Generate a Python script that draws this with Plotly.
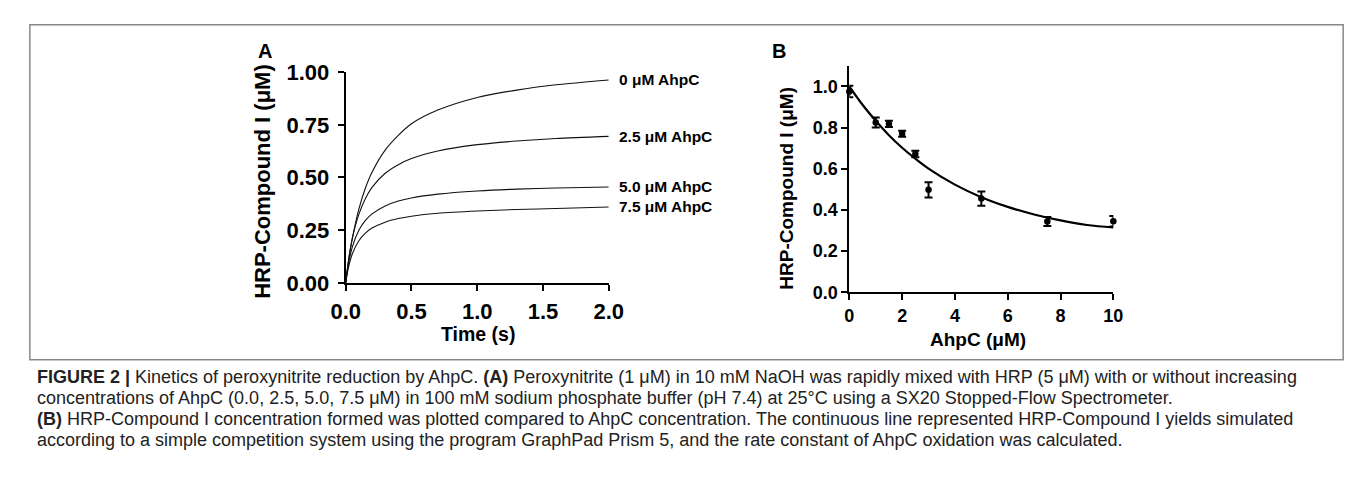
import plotly.graph_objects as go

W, H = 1357, 488

# ---------------- Panel A data ----------------
time_s = [0, 0.02, 0.05, 0.1, 0.15, 0.2, 0.3, 0.4, 0.5, 0.7, 1.0, 1.3, 1.6, 2.0]
ahpc_0 = [0, 0.10, 0.21, 0.35, 0.45, 0.525, 0.63, 0.70, 0.755, 0.82, 0.88, 0.915, 0.94, 0.963]
ahpc_25 = [0, 0.10, 0.21, 0.325, 0.40, 0.453, 0.52, 0.561, 0.59, 0.626, 0.656, 0.673, 0.685, 0.695]
ahpc_50 = [0, 0.086, 0.169, 0.249, 0.296, 0.327, 0.365, 0.388, 0.403, 0.421, 0.436, 0.445, 0.450, 0.455]
ahpc_75 = [0, 0.07, 0.137, 0.20, 0.236, 0.26, 0.288, 0.305, 0.316, 0.330, 0.341, 0.348, 0.353, 0.360]
curve_labels = ["0 μM AhpC", "2.5 μM AhpC", "5.0 μM AhpC", "7.5 μM AhpC"]
label_y = [0.965, 0.695, 0.455, 0.36]

# ---------------- Panel B data ----------------
ahpc_conc = [0, 1, 1.5, 2, 2.5, 3, 5, 7.5, 10]
hrp_ci = [0.975, 0.825, 0.818, 0.77, 0.672, 0.498, 0.455, 0.344, 0.345]
hrp_err = [0.028, 0.024, 0.015, 0.015, 0.016, 0.037, 0.035, 0.022, 0.026]
fit_x = [0, 0.5, 1, 1.5, 2, 2.5, 3, 4, 5, 6, 7, 8, 9, 10]
fit_y = [1.0, 0.911, 0.833, 0.763, 0.702, 0.649, 0.601, 0.523, 0.462, 0.415, 0.378, 0.349, 0.327, 0.315]

FONT = "Liberation Sans, Arial, Helvetica, sans-serif"

fig = go.Figure()

for ys in [ahpc_0, ahpc_25, ahpc_50, ahpc_75]:
    fig.add_trace(go.Scatter(x=time_s, y=ys, mode="lines", line=dict(color="#111", width=1.1, shape="spline", smoothing=0.8),
                             xaxis="x", yaxis="y", showlegend=False, hoverinfo="skip"))

fig.add_trace(go.Scatter(x=fit_x, y=fit_y, mode="lines", line=dict(color="#000", width=2.2, shape="spline"),
                         xaxis="x2", yaxis="y2", showlegend=False))
fig.add_trace(go.Scatter(x=ahpc_conc, y=hrp_ci, mode="markers", cliponaxis=False,
                         marker=dict(color="#000", size=6.5, symbol="circle"),
                         error_y=dict(type="data", array=hrp_err, color="#000", thickness=2, width=4),
                         xaxis="x2", yaxis="y2", showlegend=False))

def px_x(p):
    return p / W

def px_y(p):
    return 1 - p / H

axis_common = dict(showline=True, linecolor="#000", linewidth=2, ticks="outside", ticklen=6, tickwidth=2,
                   tickcolor="#000", showgrid=False, zeroline=False, fixedrange=True)

fig.update_layout(
    width=W, height=H, margin=dict(l=0, r=0, t=0, b=0),
    paper_bgcolor="white", plot_bgcolor="white",
    xaxis=dict(domain=[px_x(330), px_x(599)], range=[0, 2], tickvals=[0, 0.5, 1.0, 1.5, 2.0],
               tickformat=".1f", anchor="y", ticklabelstandoff=2,
               tickfont=dict(family=FONT, size=22, color="#000", weight="bold"), **axis_common),
    yaxis=dict(domain=[px_y(277), px_y(55)], range=[0, 1], tickvals=[0, 0.25, 0.5, 0.75, 1.0],
               tickformat=".2f", anchor="x", ticklabelstandoff=4,
               tickfont=dict(family=FONT, size=22, color="#000", weight="bold"), **axis_common),
    xaxis2=dict(domain=[px_x(845), px_x(1115)], range=[0, 10], tickvals=[0, 2, 4, 6, 8, 10],
                anchor="y2",
                tickfont=dict(family=FONT, size=18, color="#000", weight="bold"), **axis_common),
    yaxis2=dict(domain=[px_y(287), px_y(48.3)], range=[0, 1.1], tickvals=[0, 0.2, 0.4, 0.6, 0.8, 1.0],
                tickformat=".1f", anchor="x2",
                tickfont=dict(family=FONT, size=18, color="#000", weight="bold"), **axis_common),
)

ann = []
# panel letters
ann.append(dict(x=px_x(247), y=px_y(33), text="<b>A</b>", font=dict(family=FONT, size=20, color="#000")))
ann.append(dict(x=px_x(773), y=px_y(33), text="<b>B</b>", font=dict(family=FONT, size=20, color="#000")))
# axis titles
ann.append(dict(x=px_x(465), y=px_y(331), text="<b>Time (s)</b>", font=dict(family=FONT, size=19.5, color="#000")))
ann.append(dict(x=px_x(977), y=px_y(337), text="<b>AhpC (μM)</b>", font=dict(family=FONT, size=19, color="#000")))
ann.append(dict(x=px_x(245), y=px_y(170), text="<b>HRP-Compound I (μM)</b>", textangle=-90,
                font=dict(family=FONT, size=22, color="#000")))
ann.append(dict(x=px_x(781), y=px_y(177), text="<b>HRP-Compound I (μM)</b>", textangle=-90,
                font=dict(family=FONT, size=19, color="#000")))
for lab, ly in zip(curve_labels, label_y):
    ann.append(dict(x=2.0, y=ly, xref="x", yref="y", xanchor="left", xshift=8, text="<b>" + lab + "</b>",
                    font=dict(family=FONT, size=15.5, color="#000")))

for a in ann:
    a.setdefault("xref", "paper")
    a.setdefault("yref", "paper")
    a.setdefault("xanchor", "center")
    a.setdefault("yanchor", "middle")
    a["showarrow"] = False

caption = [
    "<b>FIGURE 2 |</b> Kinetics of peroxynitrite reduction by AhpC. <b>(A)</b> Peroxynitrite (1 μM) in 10 mM NaOH was rapidly mixed with HRP (5 μM) with or without increasing",
    "concentrations of AhpC (0.0, 2.5, 5.0, 7.5 μM) in 100 mM sodium phosphate buffer (pH 7.4) at 25°C using a SX20 Stopped-Flow Spectrometer.",
    "<b>(B)</b> HRP-Compound I concentration formed was plotted compared to AhpC concentration. The continuous line represented HRP-Compound I yields simulated",
    "according to a simple competition system using the program GraphPad Prism 5, and the rate constant of AhpC oxidation was calculated.",
]
cap_y = [376, 398, 421, 443]
for line, cy in zip(caption, cap_y):
    ann.append(dict(x=px_x(12), y=px_y(cy), xref="paper", yref="paper", xanchor="left", yanchor="middle",
                    showarrow=False, text=line, font=dict(family=FONT, size=18, color="#222")))

fig.update_layout(annotations=ann)

fig.add_shape(type="rect", xref="paper", yref="paper", x0=px_x(7), x1=px_x(1350), y0=px_y(358), y1=px_y(5),
              line=dict(color="#888", width=1.5), fillcolor="rgba(0,0,0,0)")

fig.write_html("out.html")
